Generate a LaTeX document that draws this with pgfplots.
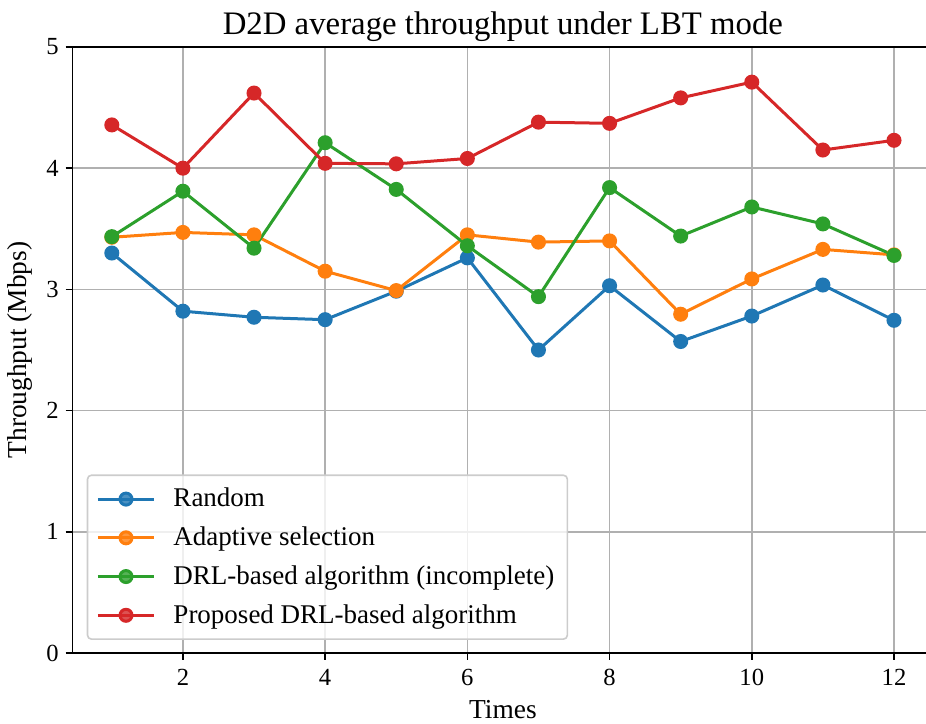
\documentclass[border=0pt]{standalone}
\usepackage{fontspec}
\setmainfont{Liberation Serif}
\usepackage{pgfplots}
\pgfplotsset{compat=1.18}
\definecolor{c0}{HTML}{1F77B4}
\definecolor{c1}{HTML}{FF7F0E}
\definecolor{c2}{HTML}{2CA02C}
\definecolor{c3}{HTML}{D62728}
\definecolor{gridc}{HTML}{B0B0B0}
\definecolor{legc}{HTML}{CCCCCC}
\begin{document}
\begin{tikzpicture}
\begin{axis}[
  scale only axis, width=426.65pt, height=303pt,
  xmin=0.45, xmax=12.45, ymin=0, ymax=5,
  xtick={2,4,6,8,10,12}, ytick={0,1,2,3,4,5},
  axis x line=box, axis y line*=left,
  xtick pos=bottom, ytick pos=left,
  tick align=outside, major tick length=3.5pt,
  tick style={black, line width=0.8pt},
  axis line style={black, line width=0.8pt},
  /pgf/number format/assume math mode=true,
  ticklabel style={font=\fontsize{12.3}{14}\selectfont},
  xticklabel style={yshift=-1pt},
  grid=major,
  major grid style={gridc, line width=0.8pt},
  title={D2D average throughput under LBT mode},
  title style={font=\fontsize{16.4}{19}\selectfont, at={(axis cs:6.5,5)}, anchor=base, yshift=0pt},
  xlabel={Times},
  xlabel style={font=\fontsize{13.7}{16}\selectfont, at={(axis cs:6.5,0)}, anchor=base, yshift=-33pt},
  ylabel={Throughput (Mbps)},
  ylabel style={font=\fontsize{13.7}{16}\selectfont},
  legend cell align=left,
  legend style={at={(axis description cs:0.0164,0.0215)}, anchor=south west,
    draw=legc, line width=0.8pt, rounded corners=2pt, fill=white, fill opacity=0.8, text opacity=1,
    font=\fontsize{13.5}{16}\selectfont, inner xsep=4.5pt, inner ysep=4.5pt, row sep=4.5pt, column sep=7pt},
  legend image code/.code={\draw[mark repeat=2,mark phase=2] plot coordinates {(0pt,0pt) (14pt,0pt) (28pt,0pt)};},
  every axis plot/.append style={line width=1.5pt, mark=*, mark size=3pt, mark options={solid}},
]
\coordinate (BL) at (rel axis cs:0,0);
\coordinate (TR) at (rel axis cs:1,1);
\addplot[c0, mark options={fill=c0}] coordinates {(1,3.30) (2,2.82) (3,2.77) (4,2.75) (5,2.985) (6,3.26) (7,2.50) (8,3.03) (9,2.57) (10,2.78) (11,3.036) (12,2.745)};
\addlegendentry{Random}
\addplot[c1, mark options={fill=c1}] coordinates {(1,3.43) (2,3.47) (3,3.45) (4,3.15) (5,2.99) (6,3.45) (7,3.39) (8,3.40) (9,2.795) (10,3.086) (11,3.33) (12,3.285)};
\addlegendentry{Adaptive selection}
\addplot[c2, mark options={fill=c2}] coordinates {(1,3.435) (2,3.81) (3,3.34) (4,4.21) (5,3.825) (6,3.36) (7,2.94) (8,3.84) (9,3.44) (10,3.68) (11,3.54) (12,3.28)};
\addlegendentry{DRL-based algorithm (incomplete)}
\addplot[c3, mark options={fill=c3}] coordinates {(1,4.357) (2,4.00) (3,4.62) (4,4.04) (5,4.036) (6,4.08) (7,4.38) (8,4.37) (9,4.58) (10,4.71) (11,4.15) (12,4.23)};
\addlegendentry{Proposed DRL-based algorithm}
\end{axis}
\pgfresetboundingbox
\path ([xshift=-36.35pt,yshift=-35.5pt]BL) rectangle ([yshift=23.5pt]TR);
\end{tikzpicture}
\end{document}
